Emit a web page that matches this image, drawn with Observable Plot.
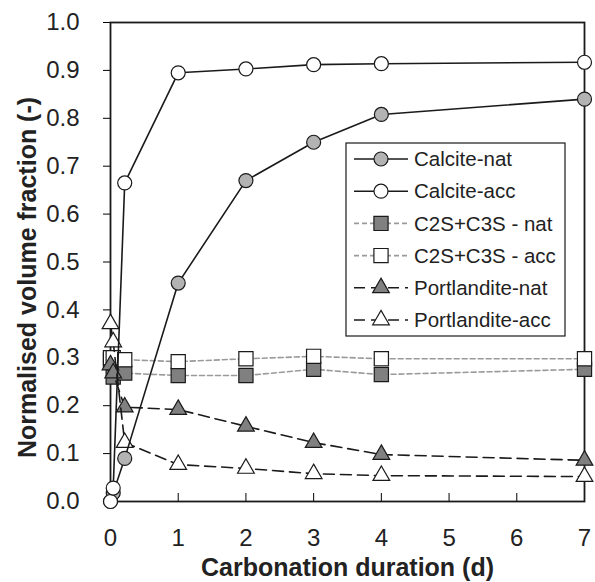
<!DOCTYPE html>
<html>
<head>
<meta charset="utf-8">
<script src="https://cdn.jsdelivr.net/npm/d3@7"></script>
<script src="https://cdn.jsdelivr.net/npm/@observablehq/plot@0.6"></script>
<style>
  body { margin: 0; background: #fff; }
  #chart svg { font-family: "Liberation Sans", Arial, sans-serif; }
</style>
</head>
<body>
<div id="chart"></div>
<script>
// ---- data ----
const days = [0, 0.04, 0.21, 1, 2, 3, 4, 7];
const calciteNat = [0.0, 0.018, 0.09, 0.456, 0.67, 0.75, 0.808, 0.84];
const calciteAcc = [0.0, 0.028, 0.665, 0.895, 0.903, 0.912, 0.914, 0.917];
const c2sNat = [0.295, 0.26, 0.268, 0.263, 0.263, 0.276, 0.265, 0.276];
const c2sAcc = [0.30, 0.30, 0.296, 0.292, 0.298, 0.303, 0.298, 0.298];
const portNat = [0.285, 0.268, 0.197, 0.192, 0.157, 0.123, 0.098, 0.086];
const portAcc = [0.371, 0.333, 0.123, 0.077, 0.069, 0.058, 0.054, 0.052];
const seriesNames = ["Calcite-nat", "Calcite-acc", "C2S+C3S - nat", "C2S+C3S - acc", "Portlandite-nat", "Portlandite-acc"];
const xTicks = [0, 1, 2, 3, 4, 5, 6, 7];
const yTicks = [0, 0.1, 0.2, 0.3, 0.4, 0.5, 0.6, 0.7, 0.8, 0.9, 1.0];
const xLabel = "Carbonation duration (d)";
const yLabel = "Normalised volume fraction (-)";

// ---- styles ----
const styles = {
  "Calcite-nat":     {values: calciteNat, stroke: "#1a1a1a", dash: null,   symbol: "circle",   fill: "#b3b3b3", r: 7},
  "Calcite-acc":     {values: calciteAcc, stroke: "#1a1a1a", dash: null,   symbol: "circle",   fill: "#ffffff", r: 7},
  "C2S+C3S - nat":   {values: c2sNat,     stroke: "#9a9a9a", dash: "5,3",  symbol: "square",   fill: "#808080", r: 8},
  "C2S+C3S - acc":   {values: c2sAcc,     stroke: "#9a9a9a", dash: "5,3",  symbol: "square",   fill: "#ffffff", r: 8},
  "Portlandite-nat": {values: portNat,    stroke: "#1a1a1a", dash: "11,6", symbol: "triangle", fill: "#808080", r: 6.2},
  "Portlandite-acc": {values: portAcc,    stroke: "#1a1a1a", dash: "11,6", symbol: "triangle", fill: "#ffffff", r: 6.2}
};
const drawOrder = ["C2S+C3S - nat", "C2S+C3S - acc", "Portlandite-nat", "Portlandite-acc", "Calcite-nat", "Calcite-acc"];

const seriesMarks = drawOrder.flatMap(name => {
  const s = styles[name];
  const data = days.map((d, i) => ({day: d, value: s.values[i]}));
  return [
    Plot.line(data, {x: "day", y: "value", stroke: s.stroke, strokeWidth: 1.6, strokeDasharray: s.dash}),
    Plot.dot(data, {x: "day", y: "value", symbol: s.symbol, r: s.r, fill: s.fill, stroke: "#1a1a1a", strokeWidth: 1.2})
  ];
});

const chart = Plot.plot({
  width: 595,
  height: 582,
  marginLeft: 110,
  marginRight: 11,
  marginTop: 22,
  marginBottom: 81,
  style: {fontFamily: "Liberation Sans, Arial, sans-serif", background: "#fff"},
  x: {domain: [0, 7]},
  y: {domain: [0, 1]},
  marks: [
    Plot.axisY(yTicks, {tickSize: 7, tickPadding: 24, tickFormat: d3.format(".1f"), fontSize: 24, fill: "#222", label: null}),
    Plot.axisX(xTicks, {tickSize: -8, tickPadding: 35.5, tickFormat: d3.format("d"), fontSize: 24, fill: "#222", label: null}),
    Plot.frame({stroke: "#1a1a1a", strokeWidth: 1.8}),
    ...seriesMarks,
    Plot.text([yLabel], {text: d => d, frameAnchor: "left", textAnchor: "middle", lineAnchor: "middle", rotate: -90, dx: -83, dy: 15.5, fontSize: 25, fontWeight: "bold", fill: "#222"}),
    Plot.text([xLabel], {text: d => d, frameAnchor: "bottom", textAnchor: "middle", lineAnchor: "middle", dx: 0, dy: 66, fontSize: 25, fontWeight: "bold", fill: "#222"})
  ]
});
document.getElementById("chart").appendChild(chart);

// ---- legend (inside plot, upper right) ----
const svg = d3.select(chart);
const lg = svg.append("g").attr("transform", "translate(346,143)");
lg.append("rect").attr("width", 219).attr("height", 193).attr("fill", "#fff").attr("stroke", "#1a1a1a").attr("stroke-width", 1.2);
const symGen = (name) => {
  const s = styles[name];
  const type = s.symbol === "circle" ? d3.symbolCircle : s.symbol === "square" ? d3.symbolSquare : d3.symbolTriangle;
  return d3.symbol(type, Math.PI * s.r * s.r)();
};
seriesNames.forEach((name, i) => {
  const s = styles[name];
  const y = 16 + i * 32.2;
  const row = lg.append("g").attr("transform", `translate(0,${y})`);
  row.append("line").attr("x1", 8).attr("x2", 62).attr("y1", 0).attr("y2", 0)
    .attr("stroke", s.stroke).attr("stroke-width", 1.6).attr("stroke-dasharray", s.dash);
  row.append("path").attr("d", symGen(name)).attr("transform", "translate(35,0)")
    .attr("fill", s.fill).attr("stroke", "#1a1a1a").attr("stroke-width", 1.2);
  row.append("text").attr("x", 68).attr("y", 0).attr("dy", "0.35em")
    .style("text-anchor", "start").style("font-size", "20.5px").attr("fill", "#222").text(name);
});
</script>
</body>
</html>
